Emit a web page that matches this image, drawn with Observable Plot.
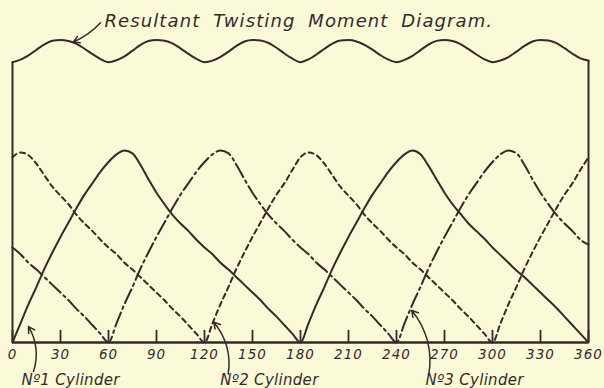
<!DOCTYPE html>
<html>
<head>
<meta charset="utf-8">
<script src="https://cdn.jsdelivr.net/npm/d3@7"></script>
<script src="https://cdn.jsdelivr.net/npm/@observablehq/plot@0.6"></script>
<style>
  html, body { margin: 0; padding: 0; background: #fafad8; }
</style>
</head>
<body>
<div id="chart"></div>
<script>
// Crank angle (degrees)
const angles = [0,5,10,15,20,25,30,35,40,45,50,55,60,65,70,75,80,85,90,95,100,105,110,115,120,125,130,135,140,145,150,155,160,165,170,175,180,185,190,195,200,205,210,215,220,225,230,235,240,245,250,255,260,265,270,275,280,285,290,295,300,305,310,315,320,325,330,335,340,345,350,355,360];

// No.1 cylinder (solid) twisting moment
const cylinder1 = [0,10,20,29,38.5,47,55,62.5,70,77,83,89,94,98,100,98.5,92.5,85,78,72,66.5,62,58,53.5,49.5,46,41.5,38,34,30,26,22,17.5,13.5,9,4.5,0,
  10,20,29,38.5,47,55,62.5,70,77,83,89,94,98,100,98,92,85,78,72,67,62,58,54,49.5,45.5,41.5,37.5,34,30,26,22,18,13.5,9,4.5,0];

// No.2 cylinder (short dashes)
const cylinder2 = [96.5,99,97.5,93,87,81,76.5,72,66.5,62,58,53.5,49.5,46,41.5,38,34,30,26,22,17.5,13.5,9,4.5,0,
  10,20,29,38.5,47,55,62.5,70,77,83,90,96.5,99,97.5,93,87,81,76.5,72,66.5,62,58,53.5,49.5,46,41.5,38,34,30,26,22,17.5,13.5,9,4.5,0,
  10,20,29,38.5,47,55,62.5,70,77,83,90,96.5];

// No.3 cylinder (dash-dot)
const cylinder3 = [49.5,46,41.5,38,34,30,26,22,17.5,13.5,9,4.5,0,
  10,20,29,38.5,47,55,62.5,70,77,83,89,94,98,100,98.5,92.5,85,78,72,66.5,62,58,53.5,49.5,46,41.5,38,34,30,26,22,17.5,13.5,9,4.5,0,
  10,20,29,38.5,47,55,62.5,70,77,83,89,94,98,100,98.5,92.5,85,78,72,66.5,62,58,53.5,51];

// Resultant twisting moment
const resultant = [146,147.3,149.5,152.5,155.3,157.2,157.6,157,155.5,153,150.2,147.6,
  146,147,149,152,155,157,157.6,157.2,155.8,153.2,150.3,147.7,
  146,146.8,148.8,151.5,154.5,156.8,157.6,157.3,156,153.5,150.5,147.8,
  146,147.5,150,153,155.7,157.3,157.5,156.8,155,152.5,149.6,147.3,
  146,147.2,149.3,152.3,155.2,157.1,157.6,157,155.4,152.8,150,147.5,
  146,146.9,148.7,151.5,154.5,156.8,157.6,157.3,155.9,153.3,150.4,148,
  146.9];

const tickValues = [0,30,60,90,120,150,180,210,240,270,300,330,360];
const tickLabels = ["0","30","60","90","120","150","180","210","240","270","300","330","360"];
const titleText = "Resultant Twisting Moment Diagram.";
const cylinderLabels = ["Nº1 Cylinder", "Nº2 Cylinder", "Nº3 Cylinder"];

const ink = "#342a2a";
const rows = (vals) => angles.map((a, i) => ({angle: a, value: vals[i]}));

const chart = Plot.plot({
  width: 604,
  height: 388,
  marginLeft: 12,
  marginRight: 16,
  marginTop: 22,
  marginBottom: 46,
  x: {domain: [0, 360], axis: null},
  y: {domain: [0, 166.67], axis: null},
  style: {background: "#fafad8", color: ink, fontFamily: "DejaVu Sans", overflow: "visible"},
  marks: [
    // frame sides
    Plot.ruleX([0], {y1: 0, y2: resultant[0], stroke: ink, strokeWidth: 2}),
    Plot.ruleX([360], {y1: 0, y2: resultant[resultant.length - 1], stroke: ink, strokeWidth: 2}),
    // resultant
    Plot.line(rows(resultant), {x: "angle", y: "value", stroke: ink, strokeWidth: 2, curve: "monotone-x"}),
    // cylinders
    Plot.line(rows(cylinder1), {x: "angle", y: "value", stroke: ink, strokeWidth: 2, curve: "monotone-x"}),
    Plot.line(rows(cylinder2), {x: "angle", y: "value", stroke: ink, strokeWidth: 2, strokeDasharray: "5,4", curve: "monotone-x"}),
    Plot.line(rows(cylinder3), {x: "angle", y: "value", stroke: ink, strokeWidth: 2, strokeDasharray: "15,4,2.5,4", curve: "monotone-x"}),
    // base line and ticks
    Plot.ruleY([0], {stroke: ink, strokeWidth: 2.5}),
    Plot.ruleX(tickValues, {y1: 0, y2: 6.3, stroke: ink, strokeWidth: 1.8}),
    Plot.axisX(tickValues, {tickSize: 0, tickPadding: 7, fontSize: 13.5, fontStyle: "italic",
      tickFormat: d => tickLabels[tickValues.indexOf(d)]}),
    // title with arrow
    Plot.text([titleText], {x: 57.5, y: 167.4, text: d => d, fontSize: 18, fontStyle: "italic", textAnchor: "start", fill: ink}),
    Plot.arrow([{x1: 55, y1: 166.5, x2: 38, y2: 156.5}], {x1: "x1", y1: "y1", x2: "x2", y2: "y2", bend: 12, headLength: 7, stroke: ink, strokeWidth: 1.5}),
    // cylinder labels with arrows
    Plot.text(cylinderLabels, {x: [36.3, 160.6, 288.8], y: -19.4, text: d => d, fontSize: 15, fontStyle: "italic", textAnchor: "middle", fill: ink}),
    Plot.arrow([
      {x1: 13.1, y1: -15.1, x2: 10, y2: 8.3},
      {x1: 134.8, y1: -16.5, x2: 125.8, y2: 10.6},
      {x1: 260.2, y1: -16.5, x2: 249.5, y2: 16.7}
    ], {x1: "x1", y1: "y1", x2: "x2", y2: "y2", bend: -25, headLength: 7, stroke: ink, strokeWidth: 1.5})
  ]
});
const svgSel = d3.select(chart);
svgSel.selectAll("text").filter(function() { return this.textContent === titleText; })
  .attr("letter-spacing", "1.1px").attr("word-spacing", "6px");
svgSel.selectAll("text").filter(function() { return cylinderLabels.includes(this.textContent); })
  .attr("letter-spacing", "0.3px");
svgSel.selectAll("text").filter(function() { return tickLabels.includes(this.textContent); })
  .attr("letter-spacing", "1px");
document.getElementById("chart").appendChild(chart);
</script>
</body>
</html>
